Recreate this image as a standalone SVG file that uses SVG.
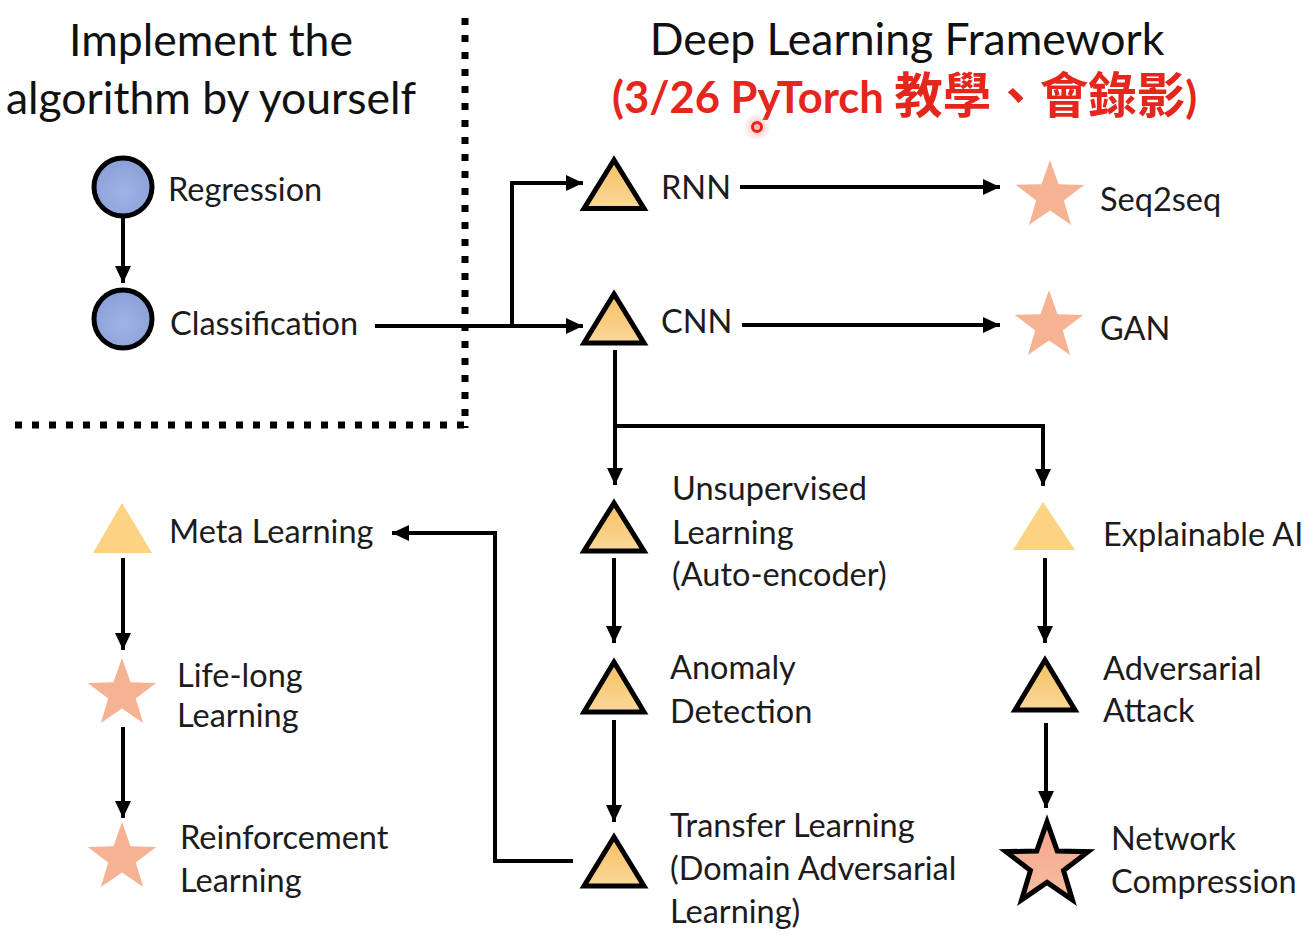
<svg xmlns="http://www.w3.org/2000/svg" width="1315" height="937" viewBox="0 0 1315 937">
<defs>
  <style>
    .t{font-family:Lato,"Open Sans","Noto Sans CJK TC",sans-serif;fill:#1c1c1c;font-size:32.5px}
    .h{font-family:Lato,"Open Sans","Noto Sans CJK TC",sans-serif;fill:#111;font-size:44.5px}
    .red{font-family:Lato,"Noto Sans CJK TC",sans-serif;fill:#e5261d;font-size:43.5px;font-weight:bold}
    .cjk{font-family:"Noto Sans CJK TC",sans-serif;font-size:48.5px;font-weight:bold}
    .ln{fill:none;stroke:#000;stroke-width:4}
    .arr{marker-end:url(#ah)}
    .dot{fill:none;stroke:#000;stroke-width:7;stroke-dasharray:7 10}
    .tri{fill:url(#tg);stroke:#000;stroke-width:5;stroke-linejoin:miter}
    .trin{fill:#fbd383}
    .circ{fill:url(#cg);stroke:#000;stroke-width:5}
    .star{fill:#f6b393}
    .stars{fill:url(#sg);stroke:#000;stroke-width:4.2;stroke-linejoin:miter}
  </style>
  <marker id="ah" markerUnits="userSpaceOnUse" markerWidth="18" markerHeight="16" refX="17" refY="8" orient="auto">
    <path d="M0,0 L17,8 L0,16 z" fill="#000"/>
  </marker>
  <linearGradient id="tg" x1="0" y1="0" x2="0" y2="1">
    <stop offset="0" stop-color="#f5bf62"/>
    <stop offset="1" stop-color="#fbd89a"/>
  </linearGradient>
  <radialGradient id="cg" cx="0.5" cy="0.6" r="0.6">
    <stop offset="0" stop-color="#9fb3e6"/>
    <stop offset="1" stop-color="#8b9fd8"/>
  </radialGradient>
  <linearGradient id="sg" x1="0" y1="0" x2="0" y2="1">
    <stop offset="0" stop-color="#f3a58c"/>
    <stop offset="1" stop-color="#f7be9f"/>
  </linearGradient>
  <radialGradient id="glow" cx="0.5" cy="0.5" r="0.5">
    <stop offset="0" stop-color="#f7a0a0" stop-opacity="0.8"/>
    <stop offset="1" stop-color="#f7a0a0" stop-opacity="0"/>
  </radialGradient>
  <path id="st" d="M0,-36 L8.52,-11.73 L34.24,-11.12 L13.79,4.48 L21.16,29.12 L0,14.5 L-21.16,29.12 L-13.79,4.48 L-34.24,-11.12 L-8.52,-11.73 Z"/>
</defs>
<rect width="1315" height="937" fill="#fff"/>

<g id="dividers">
  <line class="dot" x1="465" y1="18" x2="465" y2="428"/>
  <line class="dot" x1="15" y1="425" x2="468" y2="425"/>
</g>

<g id="titles">
  <text class="h" x="211" y="56" text-anchor="middle">Implement the</text>
  <text class="h" x="211" y="114" text-anchor="middle">algorithm by yourself</text>
  <text class="h" x="907" y="55" text-anchor="middle">Deep Learning Framework</text>
  <text class="red" x="612" y="113">(3/26 PyTorch <tspan class="cjk">教學、會錄影</tspan>)</text>
  <circle cx="757" cy="127" r="14" fill="url(#glow)"/>
  <circle cx="757" cy="127" r="4.5" fill="none" stroke="#e5261d" stroke-width="3"/>
</g>

<g id="connectors">
  <line class="ln arr" x1="123" y1="217" x2="123" y2="283"/>
  <line class="ln arr" x1="375" y1="326" x2="583" y2="326"/>
  <polyline class="ln arr" points="512,326 512,183 583,183"/>
  <line class="ln arr" x1="740" y1="187" x2="1000" y2="187"/>
  <line class="ln arr" x1="742" y1="325" x2="1000" y2="325"/>
  <line class="ln arr" x1="615" y1="350" x2="615" y2="485"/>
  <polyline class="ln arr" points="615,426 1043,426 1043,486"/>
  <line class="ln arr" x1="614" y1="558" x2="614" y2="643"/>
  <line class="ln arr" x1="614" y1="720" x2="614" y2="822"/>
  <polyline class="ln arr" points="573,861 495,861 495,533 392,533"/>
  <line class="ln arr" x1="123" y1="558" x2="123" y2="650"/>
  <line class="ln arr" x1="123" y1="727" x2="123" y2="818"/>
  <line class="ln arr" x1="1045" y1="558" x2="1045" y2="643"/>
  <line class="ln arr" x1="1046" y1="723" x2="1046" y2="808"/>
</g>

<g id="regression">
  <circle class="circ" cx="123" cy="187" r="29"/>
  <text class="t" x="168" y="201">Regression</text>
</g>
<g id="classification">
  <circle class="circ" cx="123" cy="319" r="29"/>
  <text class="t" x="170" y="335">Classification</text>
</g>

<g id="rnn">
  <polygon class="tri" points="614,160 584,208.5 644,208.5"/>
  <text class="t" x="661" y="199">RNN</text>
</g>
<g id="cnn">
  <polygon class="tri" points="614,294 584,343 644,343"/>
  <text class="t" x="661" y="333">CNN</text>
</g>
<g id="seq2seq">
  <use href="#st" class="star" transform="translate(1050,196)"/>
  <text class="t" x="1100" y="211">Seq2seq</text>
</g>
<g id="gan">
  <use href="#st" class="star" transform="translate(1049,326)"/>
  <text class="t" x="1100" y="340">GAN</text>
</g>

<g id="unsupervised">
  <polygon class="tri" points="614,503 584,551 644,551"/>
  <text class="t" x="672" y="500">Unsupervised</text>
  <text class="t" x="672" y="544">Learning</text>
  <text class="t" x="672" y="586">(Auto-encoder)</text>
</g>
<g id="anomaly">
  <polygon class="tri" points="614,662 584,712 644,712"/>
  <text class="t" x="670" y="679">Anomaly</text>
  <text class="t" x="670" y="723">Detection</text>
</g>
<g id="transfer">
  <polygon class="tri" points="614,837 584,886 644,886"/>
  <text class="t" x="670" y="837">Transfer Learning</text>
  <text class="t" x="670" y="880">(Domain Adversarial</text>
  <text class="t" x="670" y="923">Learning)</text>
</g>

<g id="explainable">
  <polygon class="trin" points="1043,502 1013,550 1075,550"/>
  <text class="t" x="1103" y="546">Explainable AI</text>
</g>
<g id="adversarial">
  <polygon class="tri" points="1045,660 1015,710 1075,710"/>
  <text class="t" x="1103" y="680">Adversarial</text>
  <text class="t" x="1103" y="722">Attack</text>
</g>
<g id="compression">
  <use href="#st" class="stars" transform="translate(1047,865) scale(1.2)"/>
  <text class="t" x="1111" y="850">Network</text>
  <text class="t" x="1111" y="893">Compression</text>
</g>

<g id="meta">
  <polygon class="trin" points="122,503 93,553 152,553"/>
  <text class="t" x="169" y="543">Meta Learning</text>
</g>
<g id="lifelong">
  <use href="#st" class="star" transform="translate(122,694)"/>
  <text class="t" x="177" y="687">Life-long</text>
  <text class="t" x="177" y="727">Learning</text>
</g>
<g id="reinforcement">
  <use href="#st" class="star" transform="translate(122,858)"/>
  <text class="t" x="180" y="849">Reinforcement</text>
  <text class="t" x="180" y="892">Learning</text>
</g>
</svg>
